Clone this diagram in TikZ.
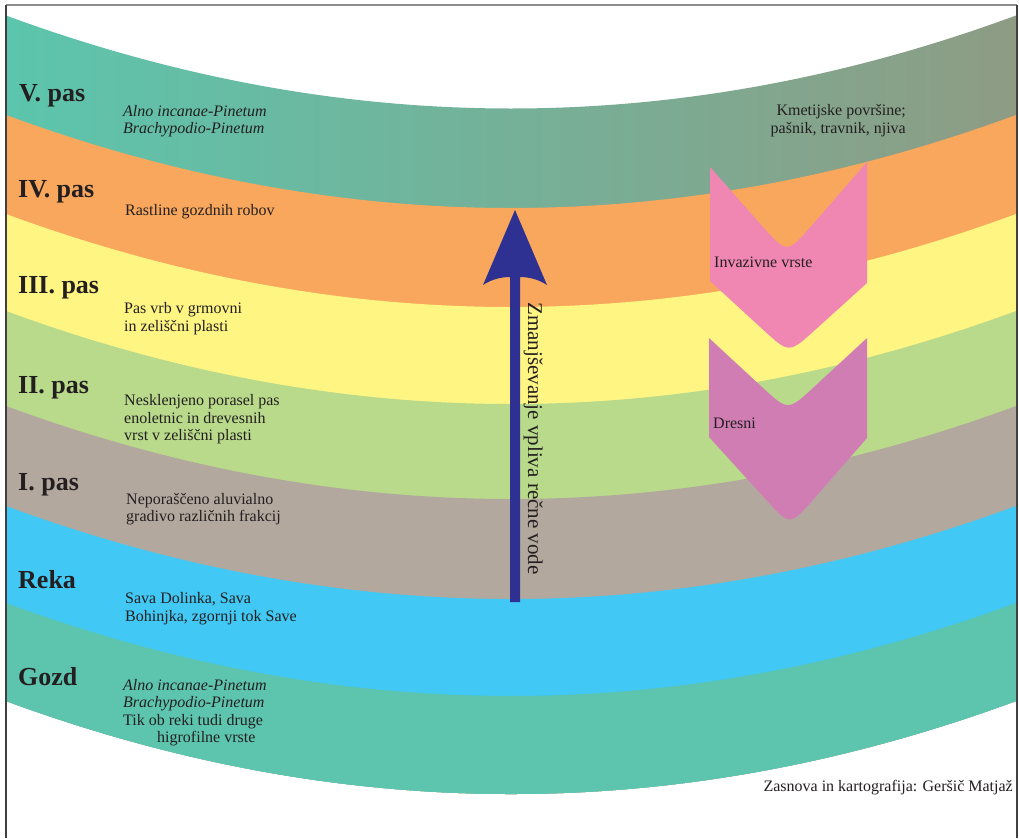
\documentclass[tikz,border=0pt]{standalone}
\usepackage{fontspec}
\setmainfont{Liberation Serif}
\definecolor{txt}{HTML}{231F20}
\definecolor{bandVl}{HTML}{5CC5AD}
\definecolor{bandVr}{HTML}{8E9C84}
\definecolor{bandIV}{HTML}{F9A75C}
\definecolor{bandIII}{HTML}{FFF583}
\definecolor{bandII}{HTML}{B8DA8A}
\definecolor{bandI}{HTML}{B3A89E}
\definecolor{bandReka}{HTML}{41C8F4}
\definecolor{bandGozd}{HTML}{5DC4AE}
\definecolor{invcol}{HTML}{F087B3}
\definecolor{drecol}{HTML}{D07DB4}
\definecolor{arrcol}{HTML}{2E3192}
\newcommand\myband[3]{\path[#1] (6,#2) .. controls (342.7,{#2+124}) and (679.3,{#2+124}) .. (1016,#2) -- (1016,#3) .. controls (679.3,{#3+124}) and (342.7,{#3+124}) .. (6,#3) -- cycle;}
\begin{document}
\begin{tikzpicture}[x=1pt,y=-1pt,
  lbl/.style={anchor=base west, inner sep=0, font=\fontsize{26}{30}\selectfont\bfseries, text=txt},
  sm/.style={anchor=base west, inner sep=0, font=\fontsize{16}{18}\selectfont, text=txt},
  smit/.style={anchor=base west, inner sep=0, font=\fontsize{16}{18}\selectfont\itshape, text=txt},
  smr/.style={anchor=base east, inner sep=0, font=\fontsize{16}{18}\selectfont, text=txt},
]
\useasboundingbox (0,0) rectangle (1019,838);
\fill[white] (0,0) rectangle (1019,838);
% bands
\myband{shade, left color=bandVl, right color=bandVr}{15.5}{701}
\myband{fill=bandIV}{115}{701}
\myband{fill=bandIII}{214}{701}
\myband{fill=bandII}{311}{701}
\myband{fill=bandI}{406}{701}
\myband{fill=bandReka}{506}{701}
\myband{fill=bandGozd}{603}{701}
% frame
\draw[line width=1.5pt, color=gray!90] (6,5) -- (1017,5);
\draw[line width=1.5pt, color=black!75] (6,5) -- (6,838);
\draw[line width=1.5pt, color=black!75] (1017,5) -- (1017,838);
% chevrons
\fill[invcol] (710,167) -- (763.5,227.6) .. controls (787,253.5) .. (810.3,227.3) -- (867,162) -- (867,283) -- (815,330) .. controls (789,353.5) .. (763.2,329.8) -- (710,281) -- cycle;
\fill[drecol] (709,338) -- (762.3,387.3) .. controls (788,411) .. (813.7,387.3) -- (867,338) -- (867,438) -- (813.1,499.7) .. controls (790,526) .. (766.4,500.1) -- (709,437) -- cycle;
% arrow
\fill[arrcol] (515,210) -- (547,285) .. controls (538,279) and (528,277) .. (520,277) -- (520,602) -- (510,602) -- (510,277) .. controls (502,277) and (492,279) .. (483,285) -- cycle;
\node[anchor=base west, rotate=-90, inner sep=0, font=\fontsize{21}{24}\selectfont, text=txt] (vtext) at (528,302) {Zmanjševanje vpliva rečne vode};
% labels
\node[lbl] (p5) at (19,101) {V. pas};
\node[lbl] (p4) at (18,197) {IV. pas};
\node[lbl] (p3) at (18,293) {III. pas};
\node[lbl] (p2) at (18,393) {II. pas};
\node[lbl] (p1) at (18,490) {I. pas};
\node[lbl] (reka) at (18,588) {Reka};
\node[lbl] (gozd) at (18,685) {Gozd};
% descriptions
\node[smit] (v1) at (123,116) {Alno incanae-Pinetum};
\node[smit] (v2) at (123,133.5) {Brachypodio-Pinetum};
\node[sm] (iv1) at (125,215) {Rastline gozdnih robov};
\node[sm] (iii1) at (124,313) {Pas vrb v grmovni};
\node[sm] (iii2) at (124,331) {in zeliščni plasti};
\node[sm] (ii1) at (124,405.5) {Nesklenjeno porasel pas};
\node[sm] (ii2) at (124,423) {enoletnic in drevesnih};
\node[sm] (ii3) at (124,440.5) {vrst v zeliščni plasti};
\node[sm] (i1) at (126,504) {Neporaščeno aluvialno};
\node[sm] (i2) at (126,521.5) {gradivo različnih frakcij};
\node[sm] (r1) at (125,603) {Sava Dolinka, Sava};
\node[sm] (r2) at (125,621.5) {Bohinjka, zgornji tok Save};
\node[smit] (g1) at (123,690) {Alno incanae-Pinetum};
\node[smit] (g2) at (123,707.5) {Brachypodio-Pinetum};
\node[sm] (g3) at (123,725) {Tik ob reki tudi druge};
\node[sm] (g4) at (157,742.5) {higrofilne vrste};
\node[smr] (k1) at (906,115) {Kmetijske površine;};
\node[smr] (k2) at (906,133) {pašnik, travnik, njiva};
\node[sm] (inv) at (714,267) {Invazivne vrste};
\node[sm] (dre) at (713,428) {Dresni};
\node[smr] (credit) at (1013,791) {Zasnova in kartografija: Geršič Matjaž};
\end{tikzpicture}
\end{document}
